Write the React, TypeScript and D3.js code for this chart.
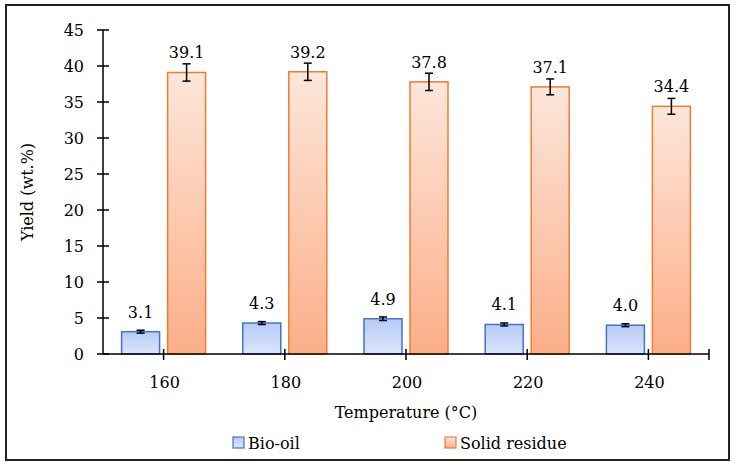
import { useRef, useEffect } from 'react';
import * as d3 from 'd3';

const temperatures = ['160', '180', '200', '220', '240'];
const series = ['Bio-oil', 'Solid residue'];
const bioOil = [3.1, 4.3, 4.9, 4.1, 4.0];
const bioOilErr = [0.2, 0.2, 0.25, 0.2, 0.2];
const solidResidue = [39.1, 39.2, 37.8, 37.1, 34.4];
const solidResidueErr = [1.2, 1.2, 1.2, 1.1, 1.1];
const yTicks = [0, 5, 10, 15, 20, 25, 30, 35, 40, 45];

const W = 735;
const H = 465;
const FONT = "'Palatino Linotype', 'Book Antiqua', 'DejaVu Serif', serif";
const FS = '16px';

export default function App() {
    const svgRef = useRef<SVGSVGElement | null>(null);

    useEffect(() => {
        if (!svgRef.current) return;
        const svg = d3.select(svgRef.current);
        svg.selectAll('*').remove();

        const left = 103, right = 709, top = 30, bottom = 354;

        const x = d3.scaleBand().domain(temperatures).range([left, right]);
        const y = d3.scaleLinear().domain([0, 45]).range([bottom, top]);
        const inner = d3.scaleBand().domain(series).range([0, 84]).paddingInner(8 / 46);

        // gradients
        const defs = svg.append('defs');
        const gOrange = defs.append('linearGradient').attr('id', 'gOrange')
            .attr('x1', 0).attr('y1', 0).attr('x2', 0).attr('y2', 1);
        gOrange.append('stop').attr('offset', '0%').attr('stop-color', '#FDE6DA');
        gOrange.append('stop').attr('offset', '100%').attr('stop-color', '#FBAE88');
        const gBlue = defs.append('linearGradient').attr('id', 'gBlue')
            .attr('x1', 0).attr('y1', 0).attr('x2', 0).attr('y2', 1);
        gBlue.append('stop').attr('offset', '0%').attr('stop-color', '#B7CBF7');
        gBlue.append('stop').attr('offset', '100%').attr('stop-color', '#DCE6FC');

        // outer frame
        svg.append('rect')
            .attr('x', 6).attr('y', 5).attr('width', 723).attr('height', 455)
            .attr('fill', 'white').attr('stroke', '#222').attr('stroke-width', 2);

        const rows = temperatures.map((t, i) => ({
            t,
            vals: [
                { s: series[0], v: bioOil[i], e: bioOilErr[i] },
                { s: series[1], v: solidResidue[i], e: solidResidueErr[i] },
            ],
        }));

        const groups = svg.selectAll('.grp').data(rows).join('g')
            .attr('class', 'grp')
            .attr('transform', d => `translate(${x(d.t)! + x.bandwidth() / 2 - 42},0)`);

        const cells = groups.selectAll('.cell').data(d => d.vals).join('g').attr('class', 'cell');

        cells.append('rect')
            .attr('x', d => inner(d.s)!)
            .attr('y', d => y(d.v))
            .attr('width', inner.bandwidth())
            .attr('height', d => y(0) - y(d.v))
            .attr('fill', d => d.s === series[0] ? 'url(#gBlue)' : 'url(#gOrange)')
            .attr('stroke', d => d.s === series[0] ? '#4472C4' : '#ED7D31')
            .attr('stroke-width', 1.5);

        // error bars
        const cx = (d: { s: string }) => inner(d.s)! + inner.bandwidth() / 2;
        cells.append('line')
            .attr('x1', cx).attr('x2', cx)
            .attr('y1', d => y(d.v + d.e)).attr('y2', d => y(d.v - d.e))
            .attr('stroke', '#000').attr('stroke-width', 1.5);
        [1, -1].forEach(sign => {
            cells.append('line')
                .attr('x1', d => cx(d) - 4).attr('x2', d => cx(d) + 4)
                .attr('y1', d => y(d.v + sign * d.e)).attr('y2', d => y(d.v + sign * d.e))
                .attr('stroke', '#000').attr('stroke-width', 1.5);
        });

        // value labels
        cells.append('text')
            .attr('x', cx)
            .attr('y', d => y(d.v) - 14)
            .attr('text-anchor', 'middle')
            .style('font-family', FONT).style('font-size', FS)
            .attr('fill', '#000')
            .text(d => d.v.toFixed(1));

        // y axis
        svg.append('line').attr('x1', left).attr('x2', left).attr('y1', top).attr('y2', bottom)
            .attr('stroke', '#000').attr('stroke-width', 1.5);
        yTicks.forEach(v => {
            svg.append('line').attr('x1', left - 6).attr('x2', left + 6).attr('y1', y(v)).attr('y2', y(v))
                .attr('stroke', '#000').attr('stroke-width', 1.5);
            svg.append('text').attr('x', 84).attr('y', y(v) + 5.5)
                .attr('text-anchor', 'end')
                .style('font-family', FONT).style('font-size', FS)
                .attr('fill', '#000')
                .text(v);
        });

        // x axis
        svg.append('line').attr('x1', left).attr('x2', right).attr('y1', bottom).attr('y2', bottom)
            .attr('stroke', '#000').attr('stroke-width', 1.5);
        const xTickPos = temperatures.map(t => x(t)! + x.bandwidth() / 2).concat([right]);
        xTickPos.forEach(p => {
            svg.append('line').attr('x1', p).attr('x2', p).attr('y1', bottom - 5).attr('y2', bottom + 6)
                .attr('stroke', '#000').attr('stroke-width', 1.5);
        });
        temperatures.forEach(t => {
            svg.append('text').attr('x', x(t)! + x.bandwidth() / 2 + 1).attr('y', 388)
                .attr('text-anchor', 'middle')
                .style('font-family', FONT).style('font-size', FS)
                .attr('fill', '#000')
                .text(t);
        });

        // axis titles
        svg.append('text').attr('x', 406).attr('y', 418)
            .attr('text-anchor', 'middle')
            .style('font-family', FONT).style('font-size', FS)
            .attr('fill', '#000')
            .text('Temperature (°C)');
        svg.append('text')
            .attr('transform', `translate(33, ${(top + bottom) / 2}) rotate(-90)`)
            .attr('text-anchor', 'middle')
            .style('font-family', FONT).style('font-size', FS)
            .attr('fill', '#000')
            .text('Yield (wt.%)');

        // legend
        const legend = [
            { s: series[0], x: 233, fill: 'url(#gBlue)', stroke: '#4472C4' },
            { s: series[1], x: 445, fill: 'url(#gOrange)', stroke: '#ED7D31' },
        ];
        legend.forEach(l => {
            svg.append('rect').attr('x', l.x).attr('y', 437).attr('width', 11).attr('height', 11)
                .attr('fill', l.fill).attr('stroke', l.stroke).attr('stroke-width', 1.2);
            svg.append('text').attr('x', l.x + 15).attr('y', 449)
                .style('font-family', FONT).style('font-size', FS)
                .attr('fill', '#000')
                .text(l.s);
        });
    }, []);

    return (
        <svg ref={svgRef} width={W} height={H}
             style={{ position: 'absolute', left: 0, top: 0, background: 'white' }} />
    );
}
